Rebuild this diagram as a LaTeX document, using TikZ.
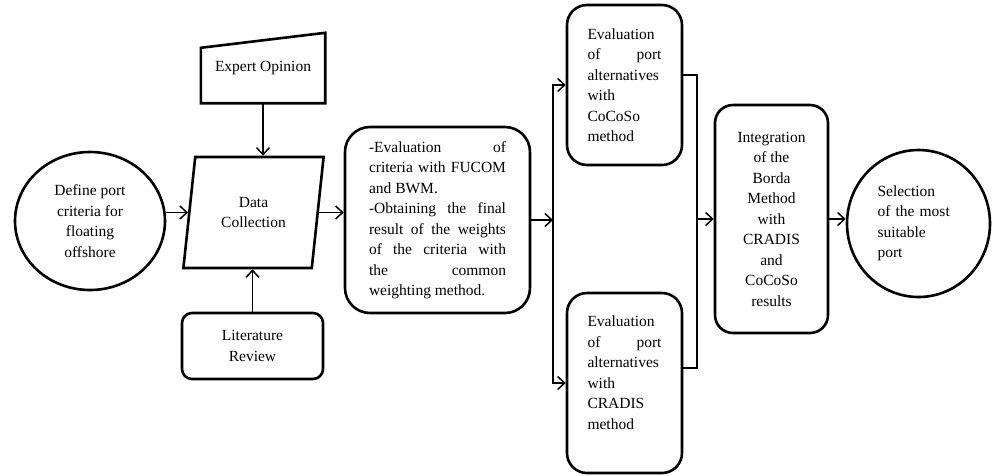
\documentclass[tikz,border=0pt]{standalone}
\usepackage{fontspec}
\setmainfont{Liberation Serif}
\usetikzlibrary{shapes.geometric,arrows.meta,calc}
\begin{document}
\begin{tikzpicture}[x=1pt,y=-1pt,
    every node/.style={font=\fontsize{15.5pt}{20.5pt}\selectfont,inner sep=0pt},
    box/.style={draw,line width=2.6pt,rounded corners=#1},
    oval/.style={draw,ellipse,line width=2.6pt},
    arr/.style={line width=1.5pt,-{Straight Barb[length=7pt,width=13pt,line width=1.5pt]}},
    link/.style={line width=1.5pt}]
\useasboundingbox (0,0) rectangle (992,475);
\node[oval,minimum width=150pt,minimum height=138pt,align=center]
    (def) at (90,221) {Define port\\criteria for\\floating\\offshore};
\node[minimum width=124pt,minimum height=70pt]
    (expert) at (263,68) {Expert Opinion};
\draw[line width=2.6pt,line join=miter]
    (expert.south west) -- ($(expert.north west)+(0,15)$)
    -- (expert.north east) -- (expert.south east) -- cycle;
\node[draw,line width=2.6pt,trapezium,trapezium left angle=78,
    trapezium right angle=102,trapezium stretches=true,
    minimum width=141pt,minimum height=111pt,align=center]
    (data) at (253.5,212.5) {Data\\Collection};
\node[box=10pt,minimum width=141pt,minimum height=66pt,align=center]
    (lit) at (252.5,346) {Literature\\Review};
\node[box=25pt,minimum width=185pt,minimum height=186pt,
    text width=137pt,align=justify]
    (mid) at (437.5,220) {-Evaluation of\linebreak criteria with FUCOM\linebreak
    and BWM.\\ -Obtaining the final\linebreak result of the weights\linebreak
    of the criteria with\linebreak the common\linebreak weighting method.};
\node[box=20pt,minimum width=115pt,minimum height=160pt,
    text width=74pt,align=justify]
    (cocoso) at (624.5,85) {Evaluation\linebreak of port\linebreak
    alternatives\linebreak with\linebreak CoCoSo\linebreak method};
\node[box=20pt,minimum width=115pt,minimum height=180pt,
    text width=74pt,align=justify]
    (cradis) at (624.5,383) {Evaluation\linebreak of port\linebreak
    alternatives\linebreak with\linebreak CRADIS\linebreak method\\~};
\node[box=18pt,minimum width=113pt,minimum height=228pt,align=center]
    (integ) at (771.5,219) {Integration\\of the\\Borda\\Method\\with\\CRADIS\\and\\CoCoSo\\results};
\node[oval,minimum width=143pt,minimum height=147pt,
    text width=82pt,align=left]
    (sel) at (918.5,223.5) {Selection\\of the most\\suitable\\port};
\coordinate (split) at (553,220);
\coordinate (merge) at (697,219);
\draw[arr] (def.east |- data.west) -- (data.west);
\draw[arr] (expert.south) -- (expert.south |- data.north);
\draw[arr] (lit.north) -- (lit.north |- data.south);
\draw[arr] (data.east) -- (mid.west |- data.east);
\draw[arr] (mid.east) -- (split);
\draw[arr] (split) |- (cocoso.west);
\draw[arr] (split) |- (cradis.west);
\draw[link] ([yshift=10pt]cocoso.east) -| (merge)
    |- ([yshift=15pt]cradis.east);
\draw[arr] (merge) -- (integ.west);
\draw[arr] (integ.east) -- (integ.east -| sel.west);
\end{tikzpicture}
\end{document}
